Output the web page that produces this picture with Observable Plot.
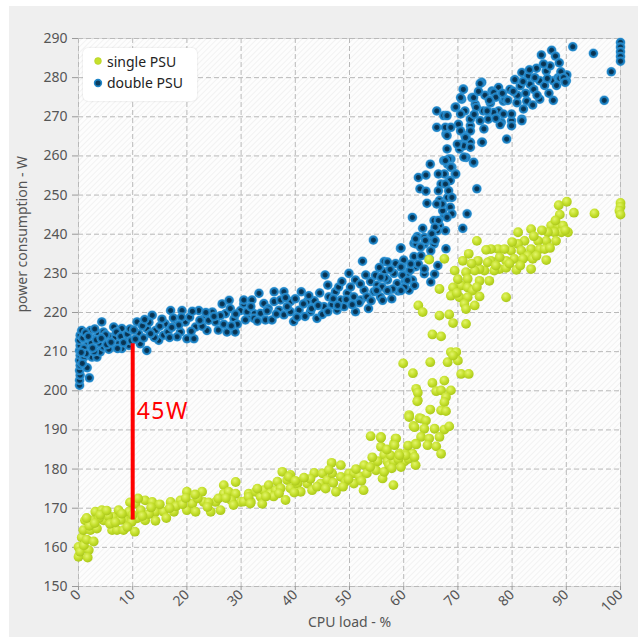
<!DOCTYPE html>
<html>
<head>
<meta charset="utf-8">
<script src="https://cdn.jsdelivr.net/npm/d3@7"></script>
<script src="https://cdn.jsdelivr.net/npm/@observablehq/plot@0.6"></script>
<style>
  body { margin: 0; background: #fff; font-family: "Noto Sans", sans-serif; }
  #chart { position: relative; width: 638px; height: 637px; overflow: hidden; }
  #panel { position: absolute; left: 9px; top: 6px; width: 629px; height: 631px; background: #efefef; }
  #legend { position: absolute; left: 83px; top: 48px; width: 114px; height: 53px; background: #fff;
            border-radius: 5px; box-shadow: 0 0 2px rgba(0,0,0,0.15); font-size: 14px; color: #222; }
  #legend .item { position: absolute; left: 10px; height: 20px; display: flex; align-items: center; white-space: nowrap; }
  #legend svg { margin-right: 4px; }
  .gap-label text { letter-spacing: 1.5px; }
</style>
</head>
<body>
<div id="chart"><div id="panel"></div></div>
<script>
// Axis ticks
const loadTicks = [0, 10, 20, 30, 40, 50, 60, 70, 80, 90, 100];
const wattTicks = [150, 160, 170, 180, 190, 200, 210, 220, 230, 240, 250, 260, 270, 280, 290];

// Series names
const seriesNames = ["single PSU", "double PSU"];

// Measurements: [CPU load %, power W]
const doublePsu = [
  [0.2,201.4],[0.2,202.7],[0.3,204],[0.2,205.2],[0.3,206.5],[0.2,207.8],[0.3,209.1],[0.2,210.3],[0.3,211.6],[0.2,212.9],[0.3,214.2],
  [2,203.3],[1.6,205.9],[1,208.6],[1.9,210.3],[1.2,212.9],[0.6,215.4],[2.2,215.4],[1.6,211.6],[2.8,213.3],[3.1,211.2],[2.5,208.6],
  [3.4,208.6],[4,209.9],[3.7,214.6],[4.3,217.6],[4.6,215],[5.3,212.9],[4.6,211.2],[6.2,211.2],[5.9,213.7],[6.8,213.7],[7.4,212],
  [6.5,216.3],[8,215.9],[8.6,213.3],[8,210.8],[9.3,211.6],
  [0.8,213.5],[1.3,214.8],[2.4,212.2],[3.0,215.8],[1.0,210.8],[0.7,207],[1.4,209.5],[2.9,210],[3.8,212.2],[5.0,214.3],[5.6,210.6],
  [7.0,215],[7.8,213.9],[9.0,214.5],[9.7,212.8],
  [0.5,209.8],[1.8,213.9],[2.6,210.9],[3.3,213.0],[4.2,213.4],[5.2,211.8],[6.0,212.4],[7.2,210.8],[8.3,212.3],[9.5,215.8],
  [10.8,217.6],[11.1,214.6],[11.4,212],[12.6,210.3],[12.6,215.9],[13.6,219.3],[14.2,215.4],[14.8,212.9],[15.7,214.2],[16,217.1],
  [17,220.5],[17.9,217.1],[19.1,220.5],[18.8,215],[19.7,217.6],[20,213.3],[21.3,213.3],[21.6,216.3],[22.2,220.5],[23.1,218.4],
  [23.7,215.4],[24.7,220.1],[25.3,217.6],[26.5,222.2],[27.8,223.1],[27.1,219.7],[27.4,215],[28.9,215],[28.7,218.4],[29.9,220.5],
  [30.5,222.2],[31.4,218.8],[32.4,219.7],
  [10.2,215.5],[12.0,213.5],[13.0,217.5],[15.0,216.5],[16.5,215.0],[17.5,218.6],[18.2,213.8],[20.5,218.8],[22.8,216.5],[24.0,218.0],
  [25.8,215.5],[26.2,219.2],[28.0,221.0],[29.3,217.0],[19.0,218.8],[21.0,220.3],[14.0,213.6],[11.8,216.6],
  [10.5,213.2],[13.3,214.6],[15.4,218.3],[16.8,213.6],[18.5,216.8],[20.8,215.2],[22.4,218.0],[23.5,220.0],[25.0,219.0],[26.8,217.0],
  [28.2,216.6],[29.0,219.6],[17.2,216.2],[12.2,218.2],
  [30.5,223.2],[32,223.2],[33.3,224.9],[34.2,222.3],[31.1,220.2],[32.4,218.5],[30.8,218.1],[33.6,219.8],[34.5,218.1],[36.1,225.3],
  [36.1,222.8],[37.9,225.3],[37.3,223.2],[37,220.6],[35.7,218.1],[37.9,219.4],[39.1,222.8],[39.1,220.2],[39.7,217.7],[41.1,225.3],
  [40.7,220.6],[42.2,222.8],[42.8,220.2],[44,218.5],[45.3,221.5],[45.5,229.6],[46,227],[46.2,224],[47.4,225.3],[48.4,223.2],
  [47.7,220.6],[49.6,224.9],[49.9,230],[51.1,228.3],[50.8,224],[51.1,220.2],[52.4,233.1],[52.7,225.7],[52.1,223.2],[54.4,238.5],
  [53.9,227.9],[54.5,225.3],[55.1,227],[55.7,224],[56.4,233],[56.4,230.4],[57,228.3],[57.3,225.7],[58.2,230],[58.8,227.4],
  [59.4,236.4],[59.7,231.7],[60,233.4],[60.7,230],[61,225.7],[61.6,228.3],[61.9,237.7],[61.9,234.3],[62.2,231.7],[62.5,239.4],
  [35.0,221.0],[38.5,221.5],[40.0,223.5],[41.8,219.0],[43.5,223.0],[44.5,225.0],[46.8,222.0],[48.0,226.5],[49.0,221.5],[50.2,226.5],
  [51.8,222.5],[53.2,224.0],[53.5,221.0],[54.8,229.5],[56.0,226.5],[57.8,223.5],[58.5,232.5],[59.0,225.5],[60.3,228.0],[43.0,221.0],
  [45.0,219.5],[47.0,223.5],[55.5,231.5],[57.5,231.0],[59.8,229.5],
  [31.8,221.5],[33.0,217.8],[34.8,220.4],[36.5,219.6],[38.2,223.8],[40.3,218.8],[41.5,222.2],[42.5,224.3],[44.2,221.8],[46.0,220.2],
  [47.8,221.8],[49.4,223.3],[50.5,222.0],[52.0,227.3],[53.0,229.6],[54.0,223.0],[55.0,225.6],[56.6,228.8],[58.0,226.0],[60.2,226.5],
  [61.2,230.8],[48.6,227.9],
  [62.7,232.4],[59.5,231.6],[57,232.9],[55.8,229],[60.7,228.2],[63.8,229.9],[65,227.8],[59.5,225.6],[57,225.6],[56.1,223.1],
  [62,226.9],[65.7,229.8],[63.8,231.1],[66.3,232],[61.3,232.4],[63.2,234.5],[62.3,237.5],[63.8,239.2],[65.3,238.3],[65.7,240.9],
  [66.6,242.2],[67.5,244.7],
  [64.9,257.9],[62.7,254.5],[64.1,255.1],[63,251.6],[64.1,251],[64.3,247.9],[61.6,244.3],[63.5,241.5],[59.5,236.5],[62.2,238.8],
  [65.6,243.5],[67.2,246],[68.1,249.4],[68.4,253.7],[68.1,257.9],[68.7,259.2],[67.5,255.4],[66.9,252.8],[66.6,248.6],[66.2,240.9],
  [65.6,237.5],[63.8,237.5],[65,235.8],[67.8,236.3],[64.7,233.7],[71.7,245.2],[70.9,241.5],[73.5,251.6],[71.5,259.6],[70.3,261.8],
  [67.8,265.6],[71.5,264.8],[70.6,263],
  [66.4,255.4],[67.4,258.8],[68.3,259.2],[68.9,257.1],[69.5,255.4],[68.6,253.7],[67.7,252.8],[66.4,251.1],[68.3,251.1],[68.9,249.4],
  [67.1,247.7],[68.6,246.9],[66.1,247.7],[68.9,245.2],[68,244.3],[66.4,243.5],[65.8,241.8],[67.7,240.9],[65.2,240.1],[64,238.4],
  [65.8,238.4],[63.1,236.7],[72.9,258.2],[70.1,268.1],[71.3,271.5],[69.5,272.4],[71,277.1],[74.4,278.8],[70.7,274.5],[72.6,274.9],
  [73.2,273.2],[74.7,271.5],[76.3,276.6],[66.1,271.5],[67.4,270.3],[66.1,267.3],[67.7,267.3],[68,265.2],[71.3,265.2],[72.3,263.5],
  [74.4,263.5],[72.3,267.7],[75.6,269.4],[77.5,271.5],[78.4,274],[79.9,269],[81.8,269.4],[78,268.6],
  [91.2,287.9],[95,286.2],[100,289],[100,287.8],[100,286.6],[100,285.4],[100,284.2],[98.3,281.5],[97,274.2],[85.4,285.8],
  [87.3,287],[88,285.5],[88.7,283.8],[81.8,281.3],[84.5,282.4],[86.3,281.7],[90.1,280.7],[90,279.2],[87.6,279.2],[85.1,279.2],
  [83.3,278.3],[81.5,277.9],[79.6,277],[77.5,277.5],[76.6,276.2],[78.7,274.5],[80.9,273.6],[82.7,274],[85.1,274.5],[87.6,274.2],
  [82.1,272],[79.9,270.7],[78.4,270.7],[76.6,271.1],[74.1,278.5],[71,277],[70.5,274.9],[72.9,274.9],[73.4,272.4],[75.4,271.5],
  [74.1,269],[72.3,269.4],[70.5,270.7],[69.6,272.5],[68,270.3],[68.7,267.3],[70.5,266.4],[72.3,266.4],[74.8,266.9],[77.8,268],
  [79.9,267.7],[81.8,269],[79,264.3],[74.5,263.5],[71.4,264.7],[71.1,262.6],[72.3,262.2],[69.9,263],[68,261.8],[71.1,259.7],
  [72.9,258.4],[67.7,258.8],[68.7,257.1],[69.6,255.4],
  [83.0,280.5],[84.0,277.0],[86.0,278.0],[88.5,280.0],[89.0,281.5],[86.8,276.0],[84.6,275.5],[82.5,276.0],[80.5,279.5],[79.2,274.2],
  [88.8,279.8],[89.5,280.0],[83.8,273.0],[81.0,275.5],[76.0,273.5],[77.0,275.0],[75.0,275.5],[73.8,276.5],[87.0,283.0],[85.8,283.5],
  [83.2,282.0],
  [80.2,276.5],[82.0,279.0],[84.2,280.0],[86.5,279.8],[88.2,278.0],[89.8,278.8],[78.2,276.0],[75.8,274.2],[73.0,270.6],[77.0,269.6]
];

const singlePsu = [
  [0,160.1],[0,157.6],[0.3,158.9],[1.9,159.3],[1.7,157.4],[0.6,162.5],[0.9,164.4],[1.2,166.9],[2.5,166.9],[2.2,164.4],
  [3.4,164.8],[3.1,169.1],[4.3,169.5],[4.6,166.9],[4.9,169.1],[6.2,164.4],[7.1,164.4],[8.3,164.4],[6.5,167.8],[7.4,169.5],
  [8.6,166.9],[9.3,169.1],[10.5,171.2],[10.4,164],[10.8,167.4],[12.3,172],[12.3,166.9],[13.6,171.6],[14.2,169.1],[14.2,166.8],
  [15.7,169.1],[17,171.6],[17.6,169.1],[18.8,172],[20,174.2],[20,169.5],[21,171.2],[21.6,169.1],[22.8,174.2],[23.1,171.6],
  [24.4,169.1],[25.3,171.6],[26.2,169.5],[26.8,175.9],[26.8,173.7],[27.7,174.2],[29,176.7],[29,173.7],[29.9,171.6],[31.4,173.7],
  [31.8,171.6],
  [1.0,160.5],[1.5,162.0],[2.0,165.5],[3.8,167.5],[5.5,168.0],[5.8,166.0],[7.8,167.0],[9.8,166.5],[11.5,169.5],[13.0,168.5],
  [15.0,171.0],[16.2,167.5],[18.0,170.5],[19.2,171.0],[22.0,172.5],[24.0,171.5],[25.8,172.5],[28.2,172.0],[2.8,161.5],[9.5,171.5],
  [11.0,172.5],
  [1.5,167.5],[3.0,166.2],[4.0,168.3],[5.2,169.4],[6.8,166.4],[8.0,168.6],[9.0,165.2],[10.0,168.3],[11.8,168.0],[13.4,170.2],
  [16.8,170.0],[19.8,172.6],[21.5,173.5],[23.8,170.3],[27.2,172.6],[28.6,170.8],
  [30.5,171.7],[31.4,172.9],[31.7,171.2],[32.7,174.2],[33.6,172.9],[33.9,171.1],[34.2,174.6],[35.1,175.9],[35.4,173.8],[36.4,174.6],
  [36.7,176.8],[37.3,175.1],[37.6,179.3],[38.2,172.1],[38.5,177.2],[39.1,178.5],[39.1,175.1],[40.4,176.3],[41,174.2],[42.2,176.3],
  [43.1,174.6],[43.5,179],[44.7,176.3],[45,178.9],[45.9,177.2],[46.7,181.6],[46.8,178.9],[47.5,174.2],[48.4,181],[48.4,178],
  [49.3,176.8],[49.9,178.9],[50.8,178.9],[50.8,176.3],[51.8,178.2],[52.6,174.6],[52.7,181],[53.2,178.9],[53.9,188.4],[54.5,181.4],
  [54.9,179.7],[55.8,188.2],[55.8,185.7],[56.1,177.6],[56.4,183.6],[56.4,179.3],[57,181.9],[57.3,181],[58.1,175.9],[58.2,186.5],
  [58.2,181.9],[58.5,187.8],[59.2,184],[60.1,181.9],[60.4,184],[61,193.8],[61.6,184],[61.8,191],[62.2,186.5],[62.2,181],
  [62.6,197.6],[62.9,193],
  [38.8,178.0],[42.8,177.5],[44.0,175.5],[47.0,176.5],[48.8,175.5],[51.2,180.0],[53.8,180.5],[55.2,182.0],[57.6,183.5],[59.0,182.5],
  [60.8,186.0],[59.5,180.5],[40.0,177.0],[36.0,173.0],
  [33.0,175.0],[34.6,173.0],[37.0,173.8],[39.8,174.0],[41.6,177.8],[45.6,175.0],[46.2,179.8],[49.8,177.4],[52.2,177.0],[54.2,183.0],
  [56.9,185.0],[57.8,180.2],[60.9,182.6],
  [100,248],[100,247],[99.8,246],[100,245],[95.2,245.3],[91.4,245.5],[90.1,248.3],[88.6,247.4],[88.8,245],[87.2,242.2],
  [88.5,242.2],[89.4,242.2],[90.3,240.5],[89.1,240.5],[87.8,240.5],[86.6,240.5],[88.1,238.3],[86.3,238.3],[84.8,238.3],[83.5,241.3],
  [81.1,240.5],[82.3,238.3],[81.1,237.5],[83.5,236.2],[85.1,236.2],[86,236.2],[79.8,235.8],[81.7,235.8],[82.9,234.5],[80.4,233.7],
  [82,233.7],[83.8,233.7],[86.3,233.4],[78.9,233.2],[77.4,236.2],[78.6,236.2],[76.1,236.2],[75.2,236],[77.7,234.1],[76.1,233.2],
  [77.7,231.1],[78.9,231.4],[80.8,230.9],[83.5,231.1],[76.7,230.7],[74.9,230.7],[74,231.1],[73.1,230.7],[73.7,233.2],[73.5,238.3],
  [75.5,232.8],[78.9,223.9],[70.9,233.2],[69.4,230.7],[67.5,233.7],[71.5,230.3],[71.8,228.6],[74,228.1],[75.8,228.1],[70.6,226.9],
  [71.8,226.4],[72.7,225.6],[74,224.1],[69.1,226.4],[68.7,224.3],[70.3,223.9],[71.8,223.9],[71.2,222.2],[71.5,220.9],[73.1,221.8],
  [66.6,226],[62.7,221.8],[63.5,220.1],[66.6,219.2],[68.4,219.5],[69.1,217.3],[71.5,217.1],[65.3,214.4],[66.9,213.9],[64.7,233.5],
  [68.7,209.9],[69.7,209.9],[68.1,207.3],[70,207.7],[70.6,204.3],[72,204.3],[69.1,209],[59.9,207],[64.9,207.3],[61.7,204.5],
  [65.3,202],[62.3,200.5],[62.6,199.5],[62.5,197.3],[66,199.9],[66.9,200.1],[67.5,202.6],[68.7,200.1],[67.8,198.4],[67.5,197.1],
  [64.9,195.2],[66.9,195],[67.8,194.8],[61,193.3],[63.2,192.9],[64.1,192.4],[62,190.7],[63.8,190.3],[65.7,190.3],[67.5,190.1],
  [68.4,190.9],[63.2,188.2],[64.7,187.8],[66.6,188.2],[64.4,186.1],[66,185.8],[62.3,186.3],[58.6,187.8],[58.3,186.1],[55.8,188],
  [60.4,183.5],[59.2,183.5],[62,183.1],[66.9,183.9],
  [80.0,238.0],[84.0,239.5],[85.5,241.0],[87.0,236.5],[84.5,234.5],[79.5,232.5],[77.0,232.0],[72.5,232.5],[72.0,235.0],[70.0,228.5],
  [73.5,226.5],[69.8,225.0],[81.5,232.0],[88.0,243.5],[89.8,241.0]
];

// Gap annotation at 10 % load
const gapLoad = 10;
const gapLow = 167;
const gapHigh = 212;

const toRows = (pairs) => pairs.map(([load, watts]) => ({load, watts}));
const singleRows = toRows(singlePsu);
const doubleRows = toRows(doublePsu);
const gapRows = [{load: gapLoad, low: gapLow, high: gapHigh}];

// Hatch for the plot background and shaded fills for the dots
function defs() {
  const g = d3.create("svg:defs");
  const hatch = g.append("pattern").attr("id", "hatch").attr("patternUnits", "userSpaceOnUse")
    .attr("width", 4).attr("height", 4).attr("patternTransform", "rotate(45)");
  hatch.append("rect").attr("width", 4).attr("height", 4).attr("fill", "#fdfdfd");
  hatch.append("line").attr("x1", 0).attr("y1", 0).attr("x2", 0).attr("y2", 4)
    .attr("stroke", "#ececec").attr("stroke-width", 1.2);
  const lime = g.append("radialGradient").attr("id", "lime").attr("cx", "40%").attr("cy", "35%").attr("r", "65%");
  lime.append("stop").attr("offset", "0%").attr("stop-color", "#e3f46c");
  lime.append("stop").attr("offset", "55%").attr("stop-color", "#c5e02d");
  lime.append("stop").attr("offset", "100%").attr("stop-color", "#abc81b");
  const navy = g.append("radialGradient").attr("id", "navy");
  navy.append("stop").attr("offset", "0%").attr("stop-color", "#062c47");
  navy.append("stop").attr("offset", "42%").attr("stop-color", "#0b3c5e");
  navy.append("stop").attr("offset", "58%").attr("stop-color", "#1877b6");
  navy.append("stop").attr("offset", "82%").attr("stop-color", "#2389cb");
  navy.append("stop").attr("offset", "100%").attr("stop-color", "#4aa3dc").attr("stop-opacity", 0.55);
  return g.node();
}

const plot = Plot.plot({
  width: 638,
  height: 637,
  marginLeft: 78,
  marginRight: 18,
  marginTop: 38,
  marginBottom: 51,
  style: {fontFamily: "Noto Sans, sans-serif", fontSize: "14px", background: "transparent", overflow: "visible"},
  x: {domain: [0, 100]},
  y: {domain: [150, 290]},
  marks: [
    defs,
    Plot.frame({fill: "url(#hatch)", stroke: "#dadada"}),
    Plot.gridX(loadTicks, {stroke: "#b9b9b9", strokeOpacity: 1, strokeDasharray: "5,3"}),
    Plot.gridY(wattTicks, {stroke: "#b9b9b9", strokeOpacity: 1, strokeDasharray: "5,3"}),
    Plot.axisY(wattTicks, {tickSize: 6, tickPadding: 5, fontSize: 14, stroke: "#9a9a9a", fill: "#555", label: null}),
    Plot.axisX(loadTicks, {tickSize: 4, tickPadding: 2, tickRotate: -45, fontSize: 14, stroke: "#9a9a9a", fill: "#555", label: null}),
    Plot.text(["CPU load - %"], {frameAnchor: "bottom", dy: 40, fill: "#555", fontSize: 14}),
    Plot.text(["power consumption - W"], {frameAnchor: "left", dx: -56, rotate: -90, fill: "#555", fontSize: 14}),
    Plot.dot(doubleRows, {x: "load", y: "watts", r: 5, fill: "url(#navy)", stroke: "none"}),
    Plot.dot(singleRows, {x: "load", y: "watts", r: 4.9, fill: "url(#lime)", stroke: "none"}),
    Plot.ruleX(gapRows, {x: "load", y1: "low", y2: "high", stroke: "#ff0000", strokeWidth: 4}),
    Plot.text(gapRows, {x: "load", y: d => (d.low + d.high) / 2, text: d => `${d.high - d.low}W`,
      textAnchor: "start", dx: 4, dy: -20, fill: "#ff0000", fontSize: 23, className: "gap-label"})
  ]
});
plot.style.position = "absolute";
plot.style.left = "0px";
plot.style.top = "0px";
document.getElementById("chart").appendChild(plot);

// Legend box in the upper-left corner of the plot
const legend = d3.select("#chart").append("div").attr("id", "legend");
const swatch = [
  {fill: "#c5e02d", stroke: "#b3cf20", width: 0.6},
  {fill: "#0b3c5e", stroke: "#1f86c8", width: 1.6}
];
seriesNames.forEach((name, i) => {
  const item = legend.append("div").attr("class", "item").style("top", `${3 + i * 21.6}px`);
  const s = item.append("svg").attr("width", 10).attr("height", 10);
  s.append("circle").attr("cx", 5).attr("cy", 5).attr("r", 3.4)
    .attr("fill", swatch[i].fill).attr("stroke", swatch[i].stroke).attr("stroke-width", swatch[i].width);
  item.append("span").text(name);
});
</script>
</body>
</html>
